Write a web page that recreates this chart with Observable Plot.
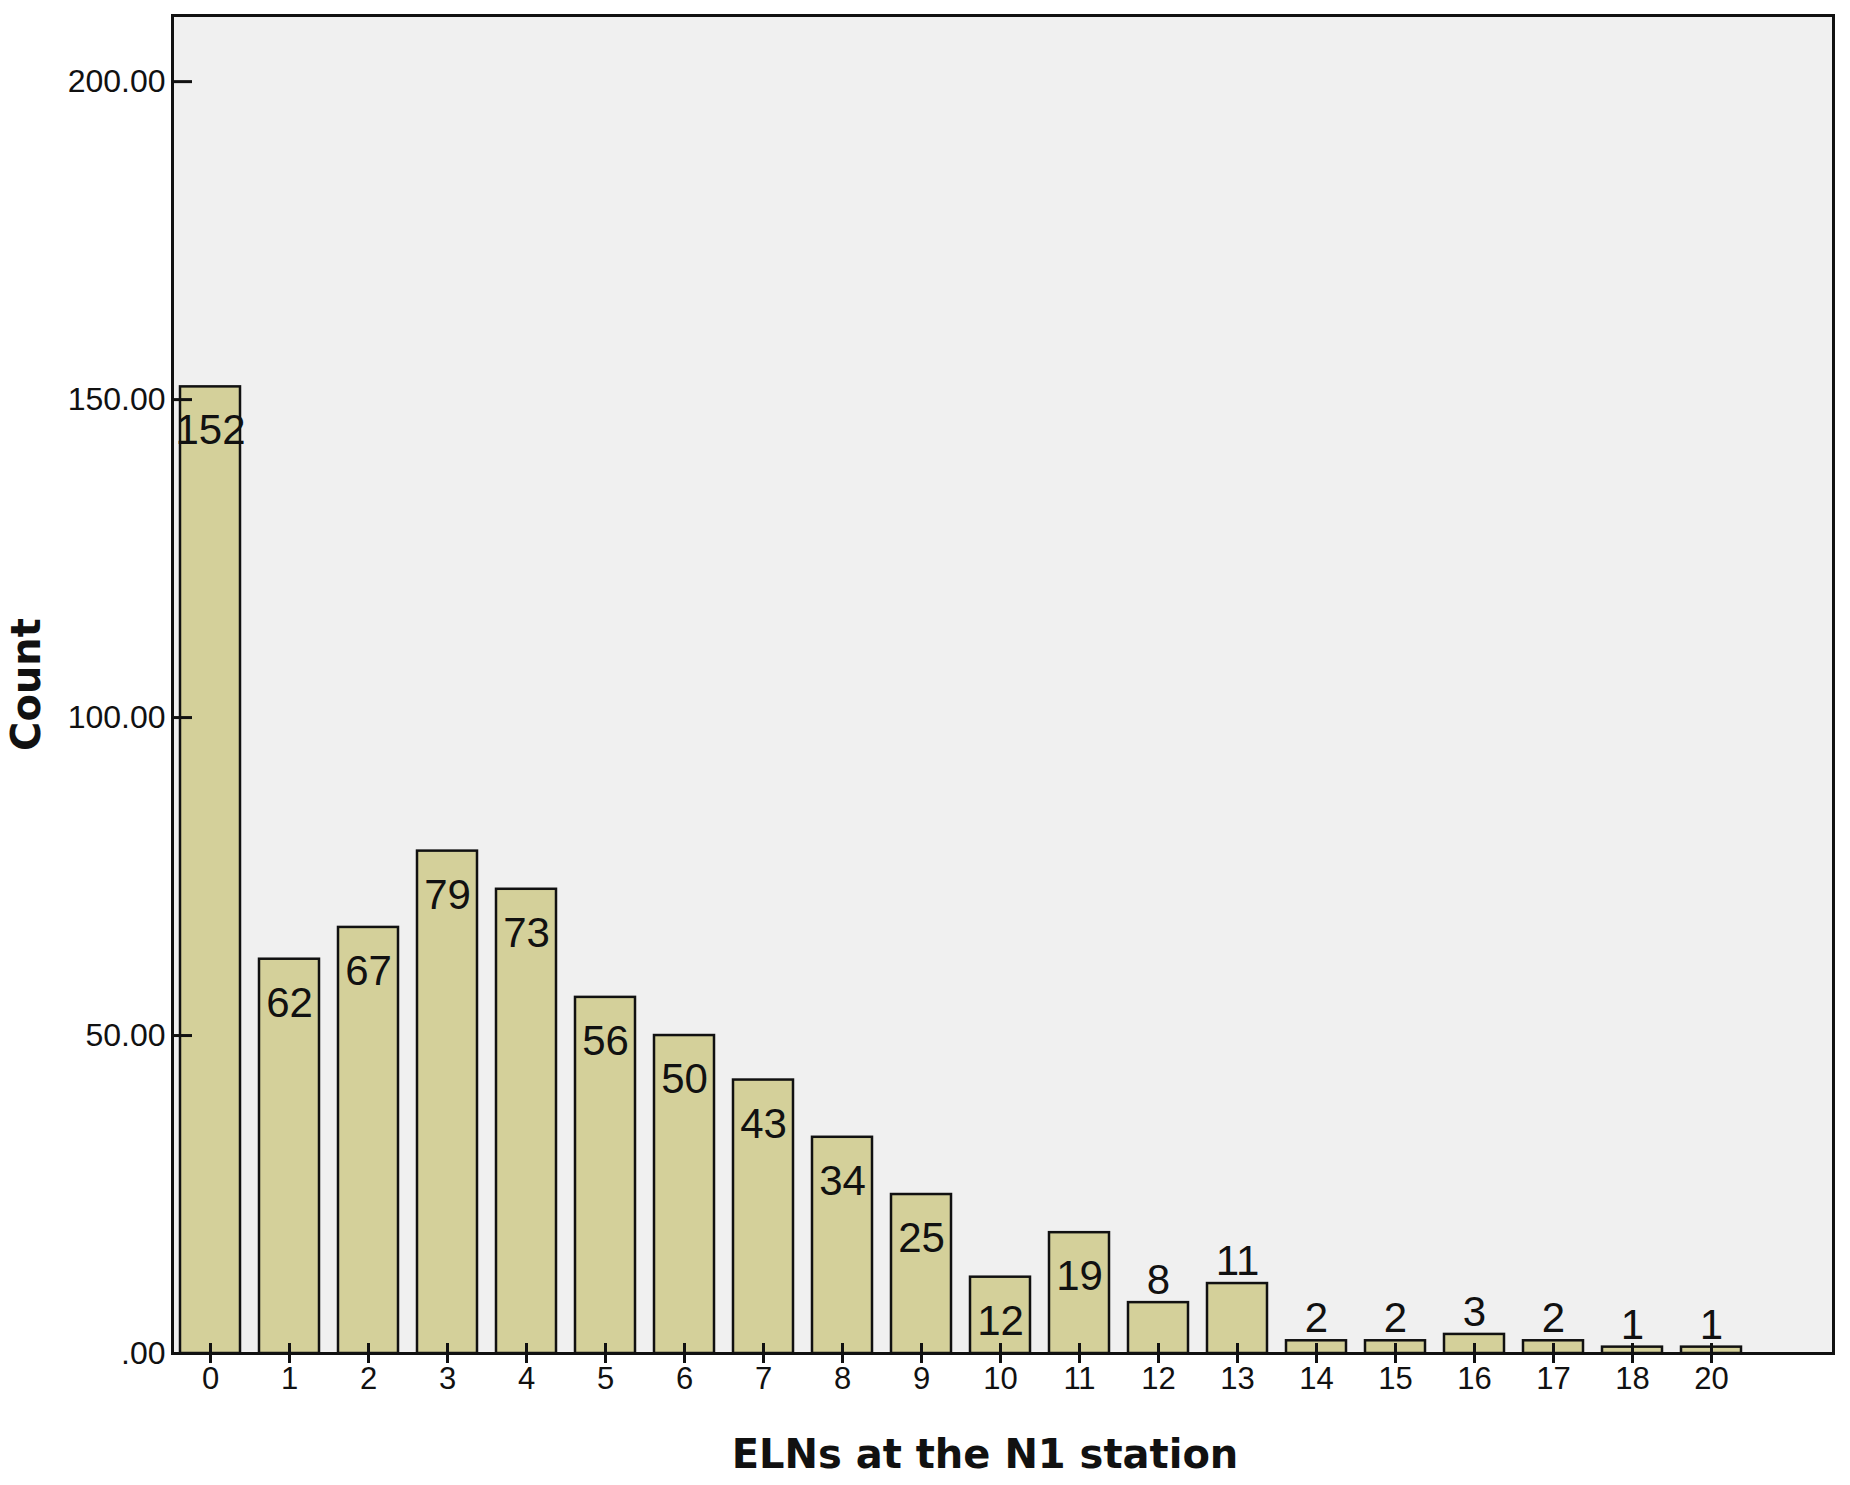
<!DOCTYPE html>
<html>
<head>
<meta charset="utf-8">
<script src="https://cdn.jsdelivr.net/npm/d3@7"></script>
<script src="https://cdn.jsdelivr.net/npm/@observablehq/plot@0.6"></script>
<style>
  html, body { margin: 0; padding: 0; background: #ffffff; }
</style>
</head>
<body>
<div id="chart"></div>
<script>
// Categories (ELNs at the N1 station) and counts
const categories = ["0","1","2","3","4","5","6","7","8","9","10","11","12","13","14","15","16","17","18","20"];
const counts = [152, 62, 67, 79, 73, 56, 50, 43, 34, 25, 12, 19, 8, 11, 2, 2, 3, 2, 1, 1];
const yTicks = [0, 50, 100, 150, 200];
const xTitle = "ELNs at the N1 station";
const yTitle = "Count";

const data = categories.map((c, i) => ({cat: c, count: counts[i]}));

const W = 1850, H = 1485;
const mL = 172, mT = 15, mR = 17, mB = 132;
const frameW = W - mL - mR, frameH = H - mT - mB;

const chart = Plot.plot({
  width: W,
  height: H,
  marginLeft: mL,
  marginTop: mT,
  marginRight: mR,
  marginBottom: mB,
  style: {fontFamily: "'Liberation Sans', Arial, sans-serif", background: "#ffffff", color: "#111"},
  x: {type: "band", domain: categories, range: [mL, 1749], paddingInner: 0.24, paddingOuter: 0.101, label: null},
  y: {domain: [0, 210.4], label: null},
  marks: [
    Plot.frame({fill: "#f0f0f0", stroke: null}),
    Plot.barY(data, {x: "cat", y: "count", fill: "#d4d09a", stroke: "#111", strokeWidth: 2.5}),
    Plot.ruleY(yTicks.filter(d => d > 0), {y: d => d, insetRight: frameW - 20, stroke: "#111", strokeWidth: 3}),
    Plot.ruleX(categories, {x: d => d, insetTop: frameH - 10, insetBottom: -10, stroke: "#111", strokeWidth: 3}),
    Plot.frame({stroke: "#111", strokeWidth: 3}),
    Plot.axisY({ticks: yTicks, tickFormat: d => d === 0 ? ".00" : d.toFixed(2), tickSize: 0, tickPadding: 7, fontSize: 32, label: null}),
    Plot.axisX({tickSize: 0, tickPadding: 13, fontSize: 31, label: null}),
    Plot.text(data.filter(d => d.count >= 12), {x: "cat", y: "count", text: d => String(d.count), dy: 44, fontSize: 42, fill: "#111"}),
    Plot.text(data.filter(d => d.count < 12), {x: "cat", y: "count", text: d => String(d.count), dy: -22, fontSize: 42, fill: "#111"}),
    Plot.text([yTitle], {frameAnchor: "left", dx: -145, rotate: -90, textAnchor: "middle", lineAnchor: "middle", fontSize: 40, fontWeight: "bold", fontFamily: "'DejaVu Sans', sans-serif", fill: "#111"}),
    Plot.text([xTitle], {frameAnchor: "bottom", dx: -18, dy: 102, textAnchor: "middle", lineAnchor: "middle", fontSize: 40, fontWeight: "bold", fontFamily: "'DejaVu Sans', sans-serif", fill: "#111"})
  ]
});

document.getElementById("chart").appendChild(chart);
</script>
</body>
</html>
